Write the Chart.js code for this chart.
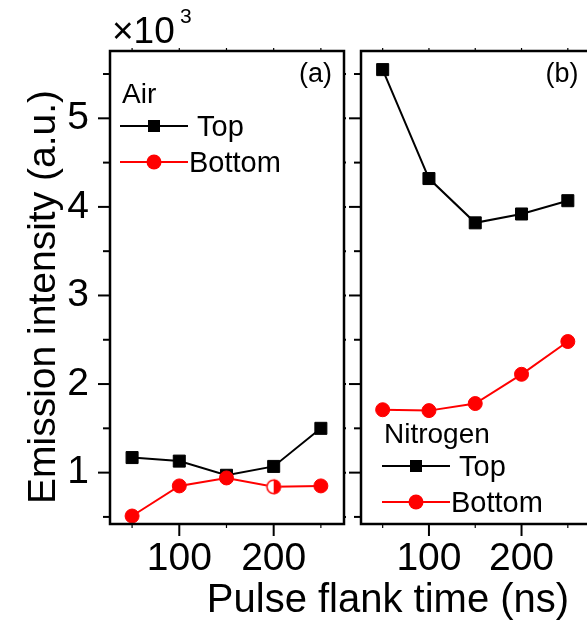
<!DOCTYPE html>
<html lang="en">
<head>
<meta charset="UTF-8">
<title>Emission intensity vs pulse flank time</title>
<script src="https://cdn.jsdelivr.net/npm/chart.js"></script>
<style>
    html, body {
        margin: 0;
        padding: 0;
        background: #fff;
        overflow: hidden;
        width: 587px;
        height: 623px;
    }
    #wrap { position: relative; width: 587px; height: 623px; }
    canvas { position: absolute; left: 0; top: 0; }
</style>
</head>
<body>
<div id="wrap">
    <canvas id="chartA" width="587" height="623"></canvas>
    <canvas id="chartB" width="600" height="623"></canvas>
</div>
<script>
// data (intensity in units of 10^3)
const flankTimes = [50, 100, 150, 200, 250];
const airTop = [1.17, 1.13, 0.97, 1.07, 1.50];
const airBottom = [0.51, 0.85, 0.94, 0.84, 0.85];
const nitrogenTop = [5.55, 4.32, 3.82, 3.92, 4.07];
const nitrogenBottom = [1.71, 1.70, 1.78, 2.11, 2.48];
const xTicks = [50, 100, 150, 200, 250];
const xTickLabels = [100, 200];
const yTicks = [0.5, 1, 1.5, 2, 2.5, 3, 3.5, 4, 4.5, 5, 5.5];
const yTickLabels = [1, 2, 3, 4, 5];

const FONT = "'Liberation Sans', Arial, sans-serif";
const RED = '#ff0000';
Chart.defaults.font.family = FONT;
Chart.defaults.color = '#000';

// half-filled circle used for one point in (a)
function halfDot(r) {
    const c = document.createElement('canvas');
    const s = Math.ceil(2 * r + 3);
    c.width = c.height = s;
    const g = c.getContext('2d');
    const m = s / 2;
    g.fillStyle = '#fff';
    g.beginPath(); g.arc(m, m, r, 0, 2 * Math.PI); g.fill();
    g.fillStyle = RED;
    g.beginPath(); g.arc(m, m, r, -Math.PI / 2, Math.PI / 2); g.closePath(); g.fill();
    g.strokeStyle = RED; g.lineWidth = 1.5;
    g.beginPath(); g.arc(m, m, r - 0.75, 0, 2 * Math.PI); g.stroke();
    return c;
}
const halfMarker = halfDot(7.5);

function pts(ys) {
    return flankTimes.map((t, i) => ({ x: t, y: ys[i] }));
}

function topSet(ys) {
    return {
        label: 'Top', data: pts(ys), order: 2,
        borderColor: '#000', backgroundColor: '#000', borderWidth: 2,
        pointStyle: 'rect', pointRadius: 8.5, pointBorderWidth: 1, clip: false
    };
}
function bottomSet(ys, halfIdx) {
    return {
        label: 'Bottom', data: pts(ys), order: 1,
        borderColor: RED, backgroundColor: RED, borderWidth: 2,
        pointStyle: c => c.dataIndex === halfIdx ? halfMarker : 'circle',
        pointRadius: 7, pointBorderWidth: 1, clip: false
    };
}

function line(ctx, x1, y1, x2, y2) {
    ctx.beginPath(); ctx.moveTo(x1, y1); ctx.lineTo(x2, y2); ctx.stroke();
}

const decor = {
    id: 'decor',
    afterDraw(chart, args, o) {
        const { ctx, chartArea: a, scales: { x, y } } = chart;
        ctx.save();
        ctx.strokeStyle = '#000';
        ctx.fillStyle = '#000';

        // axis ticks
        ctx.lineWidth = 2;
        y.ticks.forEach(t => {
            const py = y.getPixelForValue(t.value);
            const len = Number.isInteger(t.value) ? 12 : 7;
            line(ctx, a.left - len, py, a.left, py);
            if (o.rightTicks) line(ctx, a.right, py, a.right + 2, py);
        });
        x.ticks.forEach(t => {
            const px = x.getPixelForValue(t.value);
            const major = t.value % 100 === 0;
            ctx.lineWidth = major ? 2 : 1.2;
            line(ctx, px, a.bottom, px, a.bottom + (major ? 12 : 4));
            ctx.lineWidth = 1.2;
            line(ctx, px, a.top, px, a.top - 3);
        });

        // frame
        ctx.lineWidth = 2.5;
        ctx.strokeRect(a.left, a.top, a.right - a.left, a.bottom - a.top);

        // panel label
        ctx.font = '27px ' + FONT;
        ctx.textAlign = 'right';
        ctx.textBaseline = 'alphabetic';
        ctx.fillText(o.panel, a.right - 12, a.top + 31);

        // legend
        const lx = a.left + o.legend.x, ly = a.top + o.legend.y;
        ctx.textAlign = 'left';
        ctx.font = '28px ' + FONT;
        ctx.fillText(o.legend.title, lx + 2, ly);
        const sets = chart.data.datasets;
        [[sets[0], 23, 77], [sets[1], 59, 69]].forEach(([ds, dy, tx]) => {
            const ry = ly + dy;
            ctx.strokeStyle = ds.borderColor;
            ctx.fillStyle = ds.backgroundColor;
            ctx.lineWidth = 2;
            line(ctx, lx, ry, lx + 68, ry);
            if (ds.label === 'Top') {
                ctx.fillRect(lx + 34 - 6, ry - 6, 12, 12);
            } else {
                ctx.beginPath(); ctx.arc(lx + 34, ry, 7.5, 0, 2 * Math.PI); ctx.fill();
            }
            ctx.fillStyle = '#000';
            ctx.font = '29px ' + FONT;
            ctx.fillText(ds.label, lx + tx, ry + 10);
        });

        if (o.titles) {
            ctx.fillStyle = '#000';
            // y title
            ctx.save();
            ctx.translate(55, 297);
            ctx.rotate(-Math.PI / 2);
            ctx.textAlign = 'center';
            ctx.font = '39px ' + FONT;
            ctx.fillText('Emission intensity (a.u.)', 0, 0);
            ctx.restore();
            // x title
            ctx.textAlign = 'center';
            ctx.font = '40px ' + FONT;
            ctx.fillText('Pulse flank time (ns)', 388, 612);
            // multiplier
            ctx.textAlign = 'left';
            ctx.font = '37px ' + FONT;
            ctx.fillText('×10', 112, 43);
            ctx.font = '21px ' + FONT;
            ctx.fillText('3', 180, 23);
        }
        ctx.restore();
    }
};

function makePanel(id, datasets, leftWidth, rightPad, showYLabels, decorOpts) {
    return new Chart(document.getElementById(id), {
        type: 'line',
        data: { datasets: datasets },
        options: {
            responsive: false,
            animation: false,
            events: [],
            layout: { padding: { top: 51, right: rightPad, left: 0, bottom: 0 } },
            scales: {
                x: {
                    type: 'linear', min: 26.6, max: 274.5,
                    grid: { display: false, drawTicks: false },
                    border: { display: false },
                    ticks: {
                        autoSkip: false, maxRotation: 0,
                        padding: 12, color: '#000', font: { size: 39 },
                        callback: v => xTickLabels.includes(v) ? String(v) : ''
                    },
                    afterBuildTicks: s => { s.ticks = xTicks.map(v => ({ value: v })); },
                    afterFit: s => { s.height = 99; }
                },
                y: {
                    min: 0.42, max: 5.76,
                    grid: { display: false, drawTicks: false },
                    border: { display: false },
                    ticks: {
                        display: showYLabels, autoSkip: false,
                        padding: 21, color: '#000', font: { size: 39 },
                        callback: v => yTickLabels.includes(v) ? String(v) : ''
                    },
                    afterBuildTicks: s => { s.ticks = yTicks.map(v => ({ value: v })); },
                    afterFit: s => { s.width = leftWidth; }
                }
            },
            plugins: {
                legend: { display: false },
                tooltip: { enabled: false },
                decor: decorOpts
            }
        },
        plugins: [decor]
    });
}

makePanel('chartA', [topSet(airTop), bottomSet(airBottom, 3)], 110, 243, true,
    { panel: '(a)', rightTicks: true, titles: true, legend: { x: 10, y: 52, title: 'Air' } });

makePanel('chartB', [topSet(nitrogenTop), bottomSet(nitrogenBottom, -1)], 361, 5, false,
    { panel: '(b)', rightTicks: false, titles: false, legend: { x: 21, y: 392, title: 'Nitrogen' } });
</script>
</body>
</html>
